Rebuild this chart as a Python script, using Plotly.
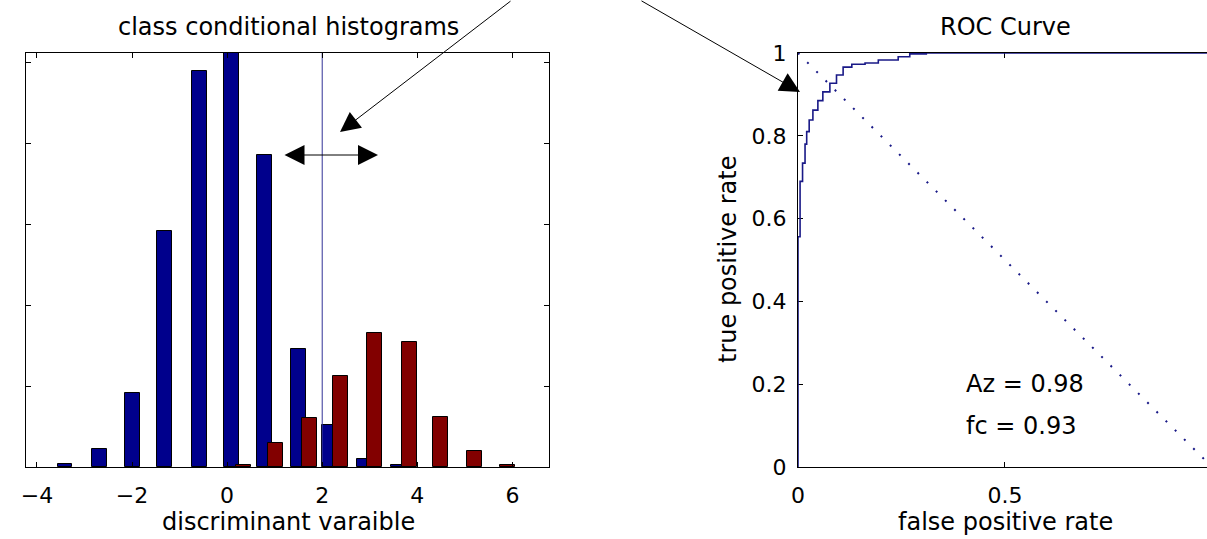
import plotly.graph_objects as go

W, H = 1207, 539

# ---------------- data ----------------
# class conditional histograms (bin centres and counts)
blue_centers = [-3.41, -2.69, -1.98, -1.31, -0.59, 0.10, 0.79, 1.51, 2.16, 2.88, 3.60]
blue_counts = [2, 11, 46, 146, 245, 256, 193, 73, 26, 5, 1]
red_centers = [0.35, 1.02, 1.73, 2.39, 3.10, 3.83, 4.48, 5.20, 5.90]
red_counts = [1, 15, 30, 56, 83, 77, 31, 10, 1]
threshold = 2.0
hist_xticks = [-4, -2, 0, 2, 4, 6]

# ROC curve
roc_fpr = [0, 0, 0.005, 0.011, 0.017, 0.021, 0.027, 0.036, 0.048, 0.060, 0.077,
           0.093, 0.109, 0.130, 0.162, 0.194, 0.242, 0.270, 0.310, 1.0]
roc_tpr = [0, 0.556, 0.690, 0.734, 0.780, 0.810, 0.838, 0.862, 0.885, 0.906, 0.927,
           0.947, 0.966, 0.973, 0.976, 0.983, 0.991, 0.998, 1.0, 1.0]
chance_fpr = [0, 1]
chance_tpr = [1, 0]
roc_xticks = [0, 0.5, 1]
roc_xticktext = ["0", "0.5", "1"]
roc_yticks = [0, 0.2, 0.4, 0.6, 0.8, 1]
roc_yticktext = ["0", "0.2", "0.4", "0.6", "0.8", "1"]
az_text = "Az = 0.98"
fc_text = "fc = 0.93"

FONT = "DejaVu Sans"
BLUE = "rgb(0,0,140)"
RED = "rgb(130,0,0)"
NAVY = "rgb(25,25,135)"


def px(x):
    return x / W


def py(y):
    return 1 - y / H


fig = go.Figure()

fig.add_trace(go.Bar(x=blue_centers, y=blue_counts, width=0.315,
                     marker=dict(color=BLUE, line=dict(color="black", width=1)),
                     xaxis="x", yaxis="y", showlegend=False))
fig.add_trace(go.Bar(x=red_centers, y=red_counts, width=0.315,
                     marker=dict(color=RED, line=dict(color="black", width=1)),
                     xaxis="x", yaxis="y", showlegend=False))
fig.add_trace(go.Scatter(x=[threshold, threshold], y=[0, 256], mode="lines",
                         line=dict(color="rgb(50,50,150)", width=1),
                         xaxis="x", yaxis="y", showlegend=False))

fig.add_trace(go.Scatter(x=chance_fpr, y=chance_tpr, mode="lines",
                         line=dict(color=NAVY, width=2, dash="2px,11px"),
                         xaxis="x2", yaxis="y2", showlegend=False))
fig.add_trace(go.Scatter(x=roc_fpr, y=roc_tpr, mode="lines", line_shape="hv",
                         line=dict(color=NAVY, width=1.6), cliponaxis=False,
                         xaxis="x2", yaxis="y2", showlegend=False))

ax_common = dict(showline=True, linecolor="black", linewidth=1.2, ticks="inside",
                 ticklen=5, tickcolor="black", tickwidth=1, showgrid=False,
                 zeroline=False, automargin=False,
                 tickfont=dict(family=FONT, size=22, color="black"))

yd = [py(467), py(53)]

fig.update_layout(
    width=W, height=H,
    margin=dict(l=0, r=0, t=0, b=0),
    paper_bgcolor="white", plot_bgcolor="white",
    barmode="overlay", bargap=0,
    font=dict(family=FONT, size=22, color="black"),
    xaxis=dict(domain=[px(26), px(549)], range=[-4.23, 6.77], tickvals=hist_xticks,
               mirror="ticks", anchor="y", ticklabelstandoff=8, **ax_common),
    yaxis=dict(domain=yd, range=[0, 256], tick0=0, dtick=50, showticklabels=False,
               mirror="ticks", anchor="x", **ax_common),
    xaxis2=dict(domain=[px(798), 1.0], range=[0, 0.988], tickvals=roc_xticks,
                ticktext=roc_xticktext, mirror="ticks", anchor="y2",
                layer="below traces", ticklabelstandoff=8, **ax_common),
    yaxis2=dict(domain=yd, range=[0, 1], tickvals=roc_yticks, ticktext=roc_yticktext,
                anchor="x2", layer="below traces", ticklabelstandoff=6, **ax_common),
)

tfont = dict(family=FONT, size=24, color="black")
ann = [
    dict(text="class conditional histograms", x=px(288), y=py(27)),
    dict(text="ROC Curve", x=px(1005), y=py(27)),
    dict(text="discriminant varaible", x=px(288), y=py(522)),
    dict(text="false positive rate", x=px(1005), y=py(522)),
    dict(text="true positive rate", x=px(728), y=py(260), textangle=-90),
]
for a in ann:
    fig.add_annotation(xref="paper", yref="paper", xanchor="center", yanchor="middle",
                       showarrow=False, font=tfont, **a)

fig.add_annotation(text=az_text, x=0.4, y=0.2, xref="x2", yref="y2", xanchor="left",
                   yanchor="middle", showarrow=False, font=tfont)
fig.add_annotation(text=fc_text, x=0.4, y=0.1, xref="x2", yref="y2", xanchor="left",
                   yanchor="middle", showarrow=False, font=tfont)

arrow_style = dict(xref="paper", yref="paper", axref="pixel", ayref="pixel", text="",
                   showarrow=True, arrowhead=2, arrowsize=4, arrowwidth=1,
                   arrowcolor="black", standoff=0, startstandoff=0)
fig.add_annotation(x=px(340), y=py(132), ax=172, ay=-132, **arrow_style)
fig.add_annotation(x=px(800), y=py(92), ax=-160, ay=-92, **arrow_style)
fig.add_annotation(x=px(378), y=py(155), ax=-95, ay=0, arrowside="end+start",
                   startarrowhead=2, startarrowsize=4, **arrow_style)

fig.write_html("out.html",
               config={"displayModeBar": False},
               post_script="document.body.style.margin='0';"
                           "document.body.style.overflow='hidden';")
